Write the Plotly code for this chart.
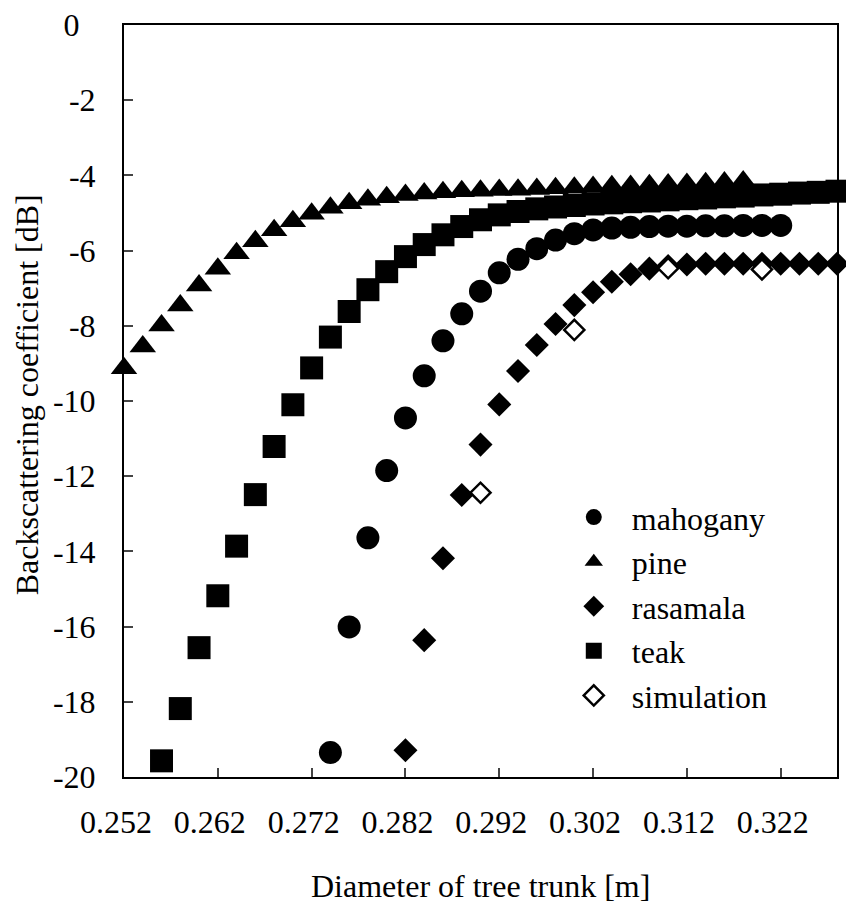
import plotly.graph_objects as go

# ---- data ----
x_tick_vals = [0.252, 0.262, 0.272, 0.282, 0.292, 0.302, 0.312, 0.322]
x_tick_text = ["0.252", "0.262", "0.272", "0.282", "0.292", "0.302", "0.312", "0.322"]
y_tick_vals = [0, -2, -4, -6, -8, -10, -12, -14, -16, -18, -20]
y_tick_text = ["0", "-2", "-4", "-6", "-8", "-10", "-12", "-14", "-16", "-18", "-20"]

mahogany_x = [0.274, 0.276, 0.278, 0.280, 0.282, 0.284, 0.286, 0.288, 0.290, 0.292,
              0.294, 0.296, 0.298, 0.300, 0.302, 0.304, 0.306, 0.308, 0.310, 0.312,
              0.314, 0.316, 0.318, 0.320, 0.322]
mahogany_y = [-19.35, -16.01, -13.64, -11.85, -10.45, -9.33, -8.40, -7.68, -7.08, -6.59,
              -6.23, -5.95, -5.72, -5.55, -5.45, -5.40, -5.38, -5.36, -5.35, -5.35,
              -5.34, -5.34, -5.33, -5.33, -5.33]

pine_x = [0.252, 0.254, 0.256, 0.258, 0.260, 0.262, 0.264, 0.266, 0.268, 0.270,
          0.272, 0.274, 0.276, 0.278, 0.280, 0.282, 0.284, 0.286, 0.288, 0.290,
          0.292, 0.294, 0.296, 0.298, 0.300, 0.302, 0.304, 0.306, 0.308, 0.310,
          0.312, 0.314, 0.316, 0.318]
pine_y = [-9.13, -8.55, -7.99, -7.46, -6.93, -6.48, -6.07, -5.75, -5.46, -5.22,
          -5.02, -4.86, -4.74, -4.65, -4.58, -4.52, -4.48, -4.45, -4.42, -4.41,
          -4.39, -4.38, -4.36, -4.34, -4.33, -4.31, -4.29, -4.28, -4.26, -4.24,
          -4.23, -4.21, -4.19, -4.16]

rasamala_x = [0.282, 0.284, 0.286, 0.288, 0.290, 0.292, 0.294, 0.296, 0.298, 0.300,
              0.302, 0.304, 0.306, 0.308, 0.310, 0.312, 0.314, 0.316, 0.318, 0.320,
              0.322, 0.324, 0.326, 0.328]
rasamala_y = [-19.29, -16.36, -14.18, -12.50, -11.16, -10.09, -9.20, -8.51, -7.95, -7.45,
              -7.11, -6.83, -6.63, -6.48, -6.41, -6.37, -6.35, -6.35, -6.35, -6.35,
              -6.35, -6.35, -6.35, -6.35]

teak_x = [0.256, 0.258, 0.260, 0.262, 0.264, 0.266, 0.268, 0.270, 0.272, 0.274,
          0.276, 0.278, 0.280, 0.282, 0.284, 0.286, 0.288, 0.290, 0.292, 0.294,
          0.296, 0.298, 0.300, 0.302, 0.304, 0.306, 0.308, 0.310, 0.312, 0.314,
          0.316, 0.318, 0.320, 0.322, 0.324, 0.326, 0.328]
teak_y = [-19.57, -18.18, -16.56, -15.18, -13.86, -12.49, -11.21, -10.10, -9.12, -8.30,
          -7.62, -7.04, -6.56, -6.16, -5.84, -5.58, -5.36, -5.18, -5.05, -4.96,
          -4.89, -4.84, -4.80, -4.76, -4.73, -4.70, -4.68, -4.65, -4.62, -4.60,
          -4.57, -4.55, -4.52, -4.50, -4.47, -4.45, -4.42]

simulation_x = [0.290, 0.300, 0.310, 0.320]
simulation_y = [-12.44, -8.11, -6.47, -6.50]

FONT = "Liberation Serif"
FS = 32
NB = "\u00a0\u00a0"
TXT = dict(family=FONT, size=FS, color="black")

fig = go.Figure()
fig.add_trace(go.Scatter(x=mahogany_x, y=mahogany_y, mode="markers", name="mahogany",
                         cliponaxis=False,
                         marker=dict(symbol="circle", size=23, color="black")))
fig.add_trace(go.Scatter(x=pine_x, y=pine_y, mode="markers", name="pine",
                         cliponaxis=False,
                         marker=dict(symbol="triangle-up", size=23, color="black")))
fig.add_trace(go.Scatter(x=rasamala_x, y=rasamala_y, mode="markers", name="rasamala",
                         cliponaxis=False,
                         marker=dict(symbol="diamond", size=18.5, color="black")))
fig.add_trace(go.Scatter(x=teak_x, y=teak_y, mode="markers", name="teak",
                         cliponaxis=False,
                         marker=dict(symbol="square", size=23, color="black")))
fig.add_trace(go.Scatter(x=simulation_x, y=simulation_y, mode="markers", name="simulation",
                         cliponaxis=False,
                         marker=dict(symbol="diamond", size=15.5, color="white",
                                     line=dict(color="black", width=2.5))))

axis_common = dict(
    showgrid=False, zeroline=False, showline=True, linecolor="black", linewidth=2,
    mirror=True, ticks="inside", ticklen=9, tickwidth=1.5, tickcolor="#444444",
    tickfont=TXT,
)

fig.update_layout(
    width=846, height=903,
    margin=dict(l=124, r=7, t=23, b=126),
    paper_bgcolor="white", plot_bgcolor="white",
    font=TXT,
    showlegend=True,
    legend=dict(
        x=(557 - 124) / 715, y=(777 - 489) / 754, xanchor="left", yanchor="top",
        bgcolor="rgba(0,0,0,0)", borderwidth=0, itemwidth=66,
        font=TXT,
    ),
    xaxis=dict(range=[0.252, 0.328], tickvals=x_tick_vals,
               ticktext=[t + NB for t in x_tick_text], ticklabelstandoff=16,
               **axis_common),
    yaxis=dict(range=[-20, 0], tickvals=y_tick_vals,
               ticktext=[(t + NB) if t == "0" else t for t in y_tick_text],
               ticklabelstandoff=20, **axis_common),
    annotations=[
        dict(text="Diameter of tree trunk [m]", xref="paper", yref="paper",
             x=0.5, y=(777 - 886) / 754, xanchor="center", yanchor="middle",
             showarrow=False, font=TXT),
        dict(text="Backscattering coefficient [dB]", xref="paper", yref="paper",
             x=(27 - 124) / 715, y=(777 - 394) / 754, xanchor="center", yanchor="middle",
             textangle=-90, showarrow=False, font=TXT),
    ],
)

fig.write_html("out.html")
